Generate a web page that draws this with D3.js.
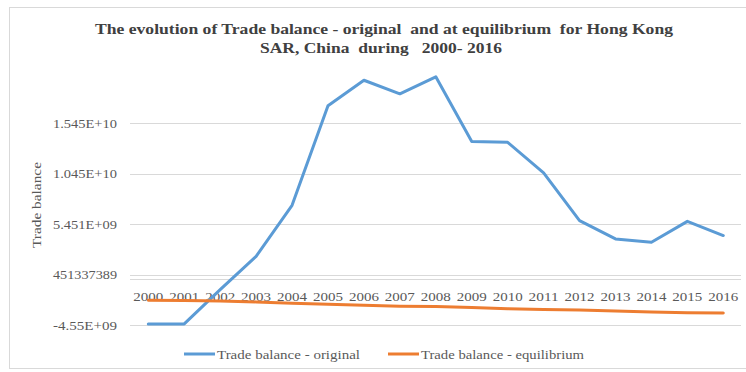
<!DOCTYPE html>
<html>
<head>
<meta charset="utf-8">
<title>Trade balance</title>
<script src="https://cdn.jsdelivr.net/npm/d3@7"></script>
<style>
  body { margin: 0; background: #fff; }
  text { font-family: "Liberation Serif", "Times New Roman", serif; }
</style>
</head>
<body>
<div id="chart"></div>
<script>
// data
var years = ['2000','2001','2002','2003','2004','2005','2006','2007','2008',
             '2009','2010','2011','2012','2013','2014','2015','2016'];
var original = [-4.44e9, -4.44e9, -1.04e9, 2.26e9, 7.32e9, 17.2e9, 19.72e9, 18.37e9, 20.06e9,
                13.64e9, 13.57e9, 10.54e9, 5.80e9, 3.99e9, 3.65e9, 5.73e9, 4.32e9];
var equilibrium = [-2.10e9, -2.13e9, -2.18e9, -2.26e9, -2.38e9, -2.50e9, -2.60e9, -2.68e9, -2.72e9,
                   -2.82e9, -2.93e9, -3.02e9, -3.06e9, -3.15e9, -3.25e9, -3.34e9, -3.36e9];
var yTicks = [-4548662611, 451337389, 5451337389, 10451337389, 15451337389];
var yTickLabels = ['-4.55E+09', '451337389', '5.451E+09', '1.045E+10', '1.545E+10'];
var seriesNames = ['Trade balance - original', 'Trade balance - equilibrium'];
var colors = ['#5B9BD5', '#ED7D31'];

var width = 746, height = 372;
var svg = d3.select('#chart').append('svg')
  .attr('width', width).attr('height', height);

// outer frame
svg.append('rect')
  .attr('x', 9.5).attr('y', 7.5)
  .attr('width', 740).attr('height', 361)
  .attr('fill', '#fff').attr('stroke', '#d9d9d9');

var x = d3.scalePoint().domain(years).range([148.3, 723.3]);
var y = d3.scaleLinear().domain([-4548662611, 15451337389]).range([325, 123.3]);

// gridlines
svg.append('g').selectAll('line')
  .data(yTicks).enter().append('line')
  .attr('x1', 130).attr('x2', 741)
  .attr('y1', function(d) { return Math.round(y(d)) + 0.5; })
  .attr('y2', function(d) { return Math.round(y(d)) + 0.5; })
  .attr('stroke', '#d9d9d9').attr('stroke-width', 1);

// zero axis line
svg.append('line')
  .attr('x1', 130).attr('x2', 741)
  .attr('y1', Math.round(y(0)) + 0.5).attr('y2', Math.round(y(0)) + 0.5)
  .attr('stroke', '#d9d9d9');

// y tick labels (the picture is stretched a little sideways)
svg.append('g').selectAll('text')
  .data(yTicks).enter().append('text')
  .attr('x', 117)
  .attr('y', function(d) { return y(d) + 4.5; })
  .attr('text-anchor', 'end')
  .attr('font-size', 13)
  .attr('fill', '#595959')
  .attr('textLength', 64).attr('lengthAdjust', 'spacingAndGlyphs')
  .text(function(d, i) { return yTickLabels[i]; });

// x category labels, sitting just under the zero line
svg.append('g').selectAll('text')
  .data(years).enter().append('text')
  .attr('x', function(d) { return x(d); })
  .attr('y', y(0) + 22)
  .attr('text-anchor', 'middle')
  .attr('font-size', 13.5)
  .attr('fill', '#595959')
  .attr('textLength', 30).attr('lengthAdjust', 'spacingAndGlyphs')
  .text(function(d) { return d; });

var line = d3.line()
  .x(function(d, i) { return x(years[i]); })
  .y(function(d) { return y(d); });

[original, equilibrium].forEach(function(s, i) {
  svg.append('path')
    .datum(s)
    .attr('d', line)
    .attr('fill', 'none')
    .attr('stroke', colors[i])
    .attr('stroke-width', 3)
    .attr('stroke-linejoin', 'round')
    .attr('stroke-linecap', 'round');
});

// axis title
svg.append('text')
  .attr('transform', 'translate(41,205) rotate(-90)')
  .attr('text-anchor', 'middle')
  .attr('font-size', 13)
  .attr('fill', '#595959')
  .attr('textLength', 86).attr('lengthAdjust', 'spacingAndGlyphs')
  .text('Trade balance');

// title
svg.append('text')
  .attr('x', 384).attr('y', 34)
  .attr('text-anchor', 'middle')
  .attr('font-size', 15.5).attr('font-weight', 'bold')
  .attr('fill', '#404040')
  .attr('textLength', 578).attr('lengthAdjust', 'spacingAndGlyphs')
  .style('white-space', 'pre')
  .text('The evolution of Trade balance - original  and at equilibrium  for Hong Kong');
svg.append('text')
  .attr('x', 381).attr('y', 53)
  .attr('text-anchor', 'middle')
  .attr('font-size', 15.5).attr('font-weight', 'bold')
  .attr('fill', '#404040')
  .attr('textLength', 242).attr('lengthAdjust', 'spacingAndGlyphs')
  .style('white-space', 'pre')
  .text('SAR, China  during   2000- 2016');

// legend
var legendX = [184, 388];
var legendLen = [143, 163];
seriesNames.forEach(function(name, i) {
  var g = svg.append('g').attr('transform', 'translate(' + legendX[i] + ',354)');
  g.append('line')
    .attr('x1', 0).attr('x2', 31).attr('y1', 0).attr('y2', 0)
    .attr('stroke', colors[i]).attr('stroke-width', 3);
  g.append('text')
    .attr('x', 33).attr('y', 4.5)
    .attr('font-size', 13)
    .attr('fill', '#595959')
    .attr('textLength', legendLen[i]).attr('lengthAdjust', 'spacingAndGlyphs')
    .text(name);
});
</script>
</body>
</html>
